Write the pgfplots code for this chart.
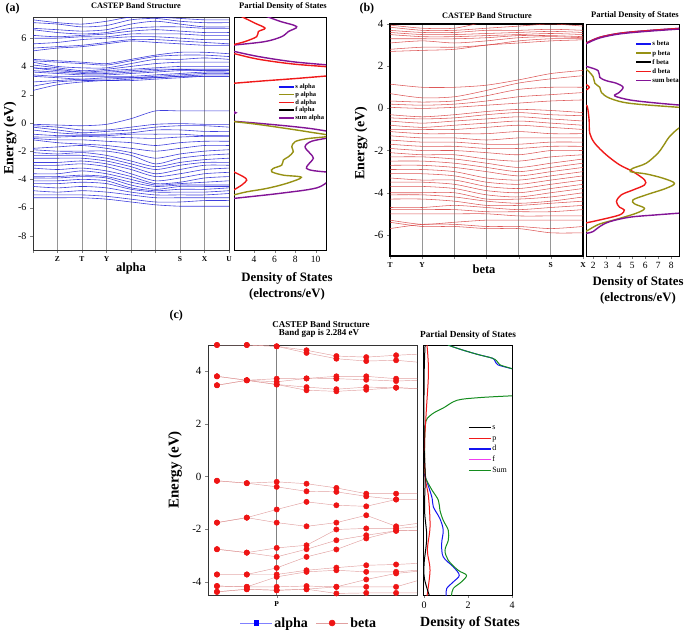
\documentclass[border=0pt]{standalone}
\usepackage{pgfplots}
\pgfplotsset{compat=1.18}
\usepackage{fontspec}
\setmainfont{Liberation Serif}
\definecolor{bandblue}{RGB}{30,30,215}
\definecolor{bandred}{RGB}{215,60,60}
\definecolor{dosolive}{RGB}{150,145,20}
\definecolor{dospurple}{RGB}{130,20,150}
\definecolor{dosred}{RGB}{240,25,25}
\definecolor{dosblue}{RGB}{20,20,240}
\definecolor{cgreen}{RGB}{20,140,30}
\definecolor{cmag}{RGB}{240,60,240}
\definecolor{cpink}{RGB}{225,160,160}
\definecolor{cdot}{RGB}{238,20,20}
\definecolor{gridgray}{RGB}{150,150,150}
\newcommand\fs[1]{\fontsize{#1}{#1}\selectfont}
\pgfplotsset{
  bA/.style={color=bandblue, line width=0.6pt, opacity=0.85, smooth, tension=0.45, mark=none},
  bB/.style={color=bandred, line width=0.55pt, opacity=0.85, smooth, tension=0.45, mark=none},
  cl/.style={color=cpink, line width=0.45pt, mark=none},
  cm/.style={only marks, mark=*, mark size=2.7pt, color=cdot},
  dl/.style={smooth, tension=0.55, line width=1.4pt, mark=none},
  every axis/.append style={scale only axis, anchor=north west, tick align=outside,
    /pgf/number format/assume math mode=true, major tick length=3pt,
    xtick pos=bottom, ytick pos=left},
}
\newcommand\bandA[9]{\addplot[bA] coordinates {(0,#1)(1,#2)(2,#3)(3,#4)(4,#5)(5,#6)(6,#7)(7,#8)(8,#9)};}
\newcommand\bandB[7]{\addplot[bB] coordinates {(0,#1)(1,#2)(2,#3)(3,#4)(4,#5)(5,#6)(6,#7)};}
\newcommand\bandCline[8]{\addplot[cl] coordinates {(0,#1)(1,#2)(2,#3)(3,#4)(4,#5)(5,#6)(6,#7)(6.7,#8)};}
\newcommand\bandCmark[8]{\addplot[cm] coordinates {(0,#1)(1,#2)(2,#3)(3,#4)(4,#5)(5,#6)(6,#7)};}
\newcommand\cbands{%
\bandC{5.0}{5.0}{4.95}{4.8}{4.58}{4.54}{4.61}{4.65}
\bandC{5.0}{5.0}{4.95}{4.7}{4.48}{4.39}{4.42}{4.35}
\bandC{3.81}{3.66}{3.72}{3.73}{3.81}{3.81}{3.72}{3.72}
\bandC{3.81}{3.66}{3.6}{3.73}{3.72}{3.68}{3.63}{3.66}
\bandC{3.47}{3.66}{3.5}{3.4}{3.32}{3.4}{3.38}{3.34}
\bandC{3.47}{3.66}{3.5}{3.28}{3.24}{3.3}{3.38}{3.34}
\bandC{-0.16}{-0.25}{-0.2}{-0.27}{-0.43}{-0.65}{-0.65}{-0.65}
\bandC{-0.16}{-0.25}{-0.39}{-0.56}{-0.58}{-0.75}{-0.87}{-0.87}
\bandC{-1.75}{-1.56}{-1.25}{-0.96}{-1.09}{-1.13}{-0.87}{-0.87}
\bandC{-1.75}{-1.56}{-1.75}{-1.89}{-1.75}{-1.47}{-1.89}{-1.78}
\bandC{-2.76}{-2.89}{-2.71}{-2.61}{-2.01}{-1.97}{-1.97}{-1.91}
\bandC{-2.76}{-2.89}{-3.05}{-2.76}{-2.42}{-2.23}{-2.06}{-2.04}
\bandC{-3.72}{-3.72}{-3.47}{-3.05}{-2.77}{-2.35}{-2.06}{-2.04}
\bandC{-3.72}{-3.72}{-3.72}{-3.56}{-3.46}{-3.37}{-3.34}{-3.3}
\bandC{-4.16}{-4.19}{-3.81}{-3.62}{-3.56}{-3.62}{-3.62}{-3.56}
\bandC{-4.16}{-4.19}{-4.19}{-4.16}{-4.19}{-3.91}{-3.68}{-3.6}
\bandC{-4.38}{-4.28}{-4.32}{-4.28}{-4.19}{-4.19}{-4.19}{-3.96}
\bandC{-4.38}{-4.28}{-4.32}{-4.28}{-4.44}{-4.42}{-4.42}{-4.42}
}
\begin{document}
\begin{tikzpicture}
\useasboundingbox (0,0) rectangle (685pt,-635pt);

% ================= (a) band structure
\begin{axis}[at={(33pt,-17pt)}, width=196pt, height=233pt,
  xmin=0, xmax=8, ymin=-9, ymax=7.5,
  xtick={0,...,8}, xticklabels={,Z,T,Y,,,S,X,U},
  ytick={-8,-6,...,6},
  xmajorgrids, grid style={gridgray, line width=0.7pt},
  axis line style={black!80, line width=0.7pt},
  xticklabel style={font=\bfseries\fs{7.5}},
  yticklabel style={font=\fs{10}}]
\bandA{7.3}{7.1}{7.0}{7.2}{7.5}{7.5}{7.4}{7.3}{7.3}
\bandA{7.1}{7.0}{6.8}{6.9}{7.3}{7.4}{7.2}{7.1}{7.1}
\bandA{6.7}{6.6}{6.5}{6.6}{7.0}{7.2}{7.0}{6.8}{6.8}
\bandA{6.6}{6.4}{6.3}{6.4}{6.7}{6.8}{6.8}{6.7}{6.7}
\bandA{6.2}{6.1}{6.2}{6.3}{6.5}{6.6}{6.5}{6.4}{6.4}
\bandA{6.0}{6.0}{6.1}{6.1}{6.3}{6.3}{6.3}{6.2}{6.2}
\bandA{5.6}{5.7}{5.9}{6.0}{6.1}{6.1}{6.0}{5.9}{5.9}
\bandA{5.3}{5.4}{5.5}{5.7}{5.9}{5.9}{5.8}{5.7}{5.6}
\bandA{5.1}{5.3}{5.4}{5.6}{5.8}{5.7}{5.6}{5.5}{5.5}
\bandA{4.5}{4.4}{4.3}{4.2}{4.5}{4.8}{5.0}{5.0}{4.9}
\bandA{4.4}{4.3}{4.2}{4.1}{4.4}{4.7}{4.8}{4.8}{4.7}
\bandA{4.3}{4.0}{3.9}{3.9}{4.2}{4.5}{4.5}{4.6}{4.5}
\bandA{4.1}{3.9}{3.7}{3.8}{4.0}{4.2}{4.3}{4.3}{4.3}
\bandA{3.9}{3.8}{3.6}{3.7}{3.8}{3.9}{4.0}{4.0}{4.0}
\bandA{3.9}{3.7}{3.6}{3.6}{3.7}{3.8}{3.8}{3.8}{3.8}
\bandA{3.7}{3.6}{3.5}{3.5}{3.6}{3.7}{3.8}{3.7}{3.7}
\bandA{3.6}{3.5}{3.4}{3.4}{3.5}{3.6}{3.7}{3.7}{3.7}
\bandA{3.4}{3.3}{3.3}{3.3}{3.3}{3.4}{3.5}{3.6}{3.6}
\bandA{3.3}{3.2}{3.1}{3.2}{3.2}{3.3}{3.4}{3.5}{3.5}
\bandA{2.9}{3.0}{3.1}{3.1}{3.2}{3.2}{3.3}{3.4}{3.4}
\bandA{2.6}{2.9}{3.0}{3.0}{3.1}{3.2}{3.3}{3.3}{3.3}
\bandA{2.3}{2.7}{2.9}{3.0}{3.0}{3.1}{3.2}{3.3}{3.3}
\bandA{-0.1}{-0.15}{-0.2}{-0.1}{0.3}{0.85}{0.85}{0.85}{0.85}
\bandA{-0.2}{-0.3}{-0.5}{-0.5}{-0.3}{-0.1}{-0.05}{-0.1}{-0.1}
\bandA{-0.3}{-0.5}{-0.7}{-0.6}{-0.5}{-0.3}{-0.2}{-0.2}{-0.3}
\bandA{-0.5}{-0.7}{-0.8}{-0.8}{-0.7}{-0.5}{-0.5}{-0.6}{-0.6}
\bandA{-0.8}{-0.9}{-0.9}{-0.9}{-0.8}{-0.8}{-0.8}{-0.9}{-0.9}
\bandA{-1.0}{-1.0}{-0.95}{-1.0}{-1.05}{-1.1}{-1.0}{-0.95}{-0.95}
\bandA{-1.1}{-1.2}{-1.2}{-1.3}{-1.4}{-1.6}{-1.4}{-1.3}{-1.3}
\bandA{-1.2}{-1.4}{-1.5}{-1.6}{-1.8}{-2.0}{-1.8}{-1.6}{-1.6}
\bandA{-1.8}{-1.7}{-1.6}{-1.8}{-2.1}{-2.5}{-2.2}{-2.0}{-1.9}
\bandA{-1.9}{-2.0}{-2.0}{-2.0}{-2.3}{-2.9}{-2.5}{-2.3}{-2.2}
\bandA{-2.1}{-2.2}{-2.1}{-2.3}{-2.7}{-3.1}{-2.8}{-2.6}{-2.5}
\bandA{-2.3}{-2.3}{-2.3}{-2.5}{-2.9}{-3.3}{-3.0}{-2.8}{-2.8}
\bandA{-2.5}{-2.5}{-2.5}{-2.7}{-3.1}{-3.6}{-3.3}{-3.0}{-3.0}
\bandA{-2.8}{-2.8}{-2.7}{-2.9}{-3.3}{-3.8}{-3.6}{-3.3}{-3.2}
\bandA{-3.0}{-3.0}{-2.9}{-3.1}{-3.6}{-4.1}{-3.9}{-3.6}{-3.5}
\bandA{-3.2}{-3.3}{-3.2}{-3.4}{-3.8}{-4.3}{-4.2}{-3.9}{-3.8}
\bandA{-3.6}{-3.6}{-3.4}{-3.6}{-4.0}{-4.4}{-4.3}{-4.2}{-4.1}
\bandA{-3.8}{-3.8}{-3.7}{-3.8}{-4.2}{-4.5}{-4.4}{-4.4}{-4.4}
\bandA{-3.9}{-3.9}{-3.8}{-3.9}{-4.4}{-4.7}{-4.5}{-4.5}{-4.5}
\bandA{-4.1}{-4.1}{-4.0}{-4.1}{-4.6}{-4.8}{-4.7}{-4.7}{-4.6}
\bandA{-4.3}{-4.3}{-4.2}{-4.3}{-4.7}{-4.9}{-4.9}{-4.9}{-4.8}
\bandA{-4.5}{-4.6}{-4.5}{-4.6}{-4.9}{-5.1}{-5.1}{-5.1}{-5.0}
\bandA{-4.8}{-4.9}{-4.8}{-4.9}{-5.1}{-5.3}{-5.3}{-5.3}{-5.3}
\bandA{-5.1}{-5.1}{-5.1}{-5.2}{-5.4}{-5.6}{-5.6}{-5.5}{-5.5}
\bandA{-5.3}{-5.3}{-5.3}{-5.4}{-5.6}{-5.8}{-5.9}{-5.9}{-5.9}
\end{axis}

% ================= (a) DOS
\begin{axis}[at={(234pt,-17pt)}, width=92pt, height=233pt,
  xmin=2.05, xmax=11, ymin=-9, ymax=7.5,
  xtick={4,6,8,10}, ytick=\empty,
  axis line style={line width=0.8pt},
  xticklabel style={font=\fs{9.5}},
  legend style={at={(0.478,0.717)}, anchor=north west, draw=none, fill=none,
    font=\bfseries\fs{6.5}, row sep=0pt, inner sep=0pt,
    nodes={inner sep=0.6pt, text height=5pt, text depth=1.5pt}},
  legend cell align=left,
  legend image code/.code={\draw[#1, line width=1.6pt] (0pt,0pt) -- (15pt,0pt);}]
\addlegendimage{dosblue}\addlegendentry{s alpha}
\addlegendimage{dosolive}\addlegendentry{p alpha}
\addlegendimage{dosred}\addlegendentry{d alpha}
\addlegendimage{black}\addlegendentry{f alpha}
\addlegendimage{dospurple}\addlegendentry{sum alpha}
\addplot[dl, dospurple] coordinates {(5.0,7.6)(6.5,7.2)(8.15,6.82)(7.34,6.47)(6.69,6.11)(5.07,5.76)(2.15,5.52)(1.9,5.5)};
\addplot[dl, dosred] coordinates {(2.6,7.6)(4.1,7.06)(5.07,6.71)(4.42,6.47)(4.26,6.11)(3.12,5.76)(2.15,5.57)(1.9,5.5)};
\addplot[dl, dospurple] coordinates {(1.9,5.08)(2.15,5.05)(4.42,4.7)(7.67,4.34)(10.9,4.12)(11.5,4.08)};
\addplot[dl, dosred] coordinates {(1.9,4.92)(2.15,4.89)(4.42,4.51)(7.67,4.18)(10.9,3.99)(11.5,3.96)};
\addplot[dl, dosred] coordinates {(1.9,2.8)(5,2.98)(8,3.14)(11.5,3.35)};
\addplot[dl, dospurple] coordinates {(2.0,0.8)(2.25,0.72)(2.0,0.64)};
\addplot[dl, dospurple] coordinates {(1.9,0.12)(4,0.0)(7,-0.2)(9.5,-0.4)(11.4,-0.62)};
\addplot[dl, dospurple] coordinates {(11.4,-1.05)(9.6,-1.3)(8.96,-1.69)(9.45,-2.16)(9.77,-2.5)(9.28,-2.95)(9.1,-3.22)(9.77,-3.38)(11.4,-3.5)};
\addplot[dl, dospurple] coordinates {(11.4,-4.0)(10.1,-4.6)(6.5,-4.99)(2.0,-5.35)(1.9,-5.37)};
\addplot[dl, dosolive] coordinates {(1.9,0.1)(4,-0.07)(7,-0.38)(9.5,-0.66)(11.4,-0.92)(9.13,-1.12)(7.99,-1.33)(7.67,-1.69)(7.82,-2.04)(7.34,-2.4)(6.85,-2.63)(6.69,-2.99)(5.88,-3.22)(5.72,-3.46)(6.85,-3.7)(8.6,-3.85)(7.18,-4.28)(5.24,-4.64)(3.29,-4.88)(2.0,-5.11)(1.9,-5.15)};
\addplot[dl, dosred] coordinates {(1.9,-3.42)(2.0,-3.46)(2.96,-3.81)(3.29,-4.05)(2.8,-4.4)(2.0,-4.76)(1.9,-4.8)};
\end{axis}

% ================= (b) band structure
\begin{axis}[at={(390pt,-24pt)}, width=193pt, height=232pt,
  xmin=0, xmax=6, ymin=-7, ymax=4,
  xtick={0,...,6}, xticklabels={T,Y,,,,S,X},
  ytick={-6,-4,...,4},
  xmajorgrids, grid style={gridgray, line width=0.7pt},
  axis line style={black, line width=1.6pt},
  xticklabel style={font=\bfseries\fs{7.5}},
  yticklabel style={font=\fs{11}}]
\bandB{3.95}{3.8}{3.8}{4.1}{4.2}{4.2}{4.2}
\bandB{3.85}{3.7}{3.7}{3.8}{3.9}{4.0}{3.9}
\bandB{3.7}{3.6}{3.6}{3.7}{3.7}{3.75}{3.7}
\bandB{3.6}{3.5}{3.5}{3.55}{3.6}{3.65}{3.6}
\bandB{3.5}{3.4}{3.4}{3.45}{3.5}{3.55}{3.5}
\bandB{3.3}{3.3}{3.3}{3.35}{3.45}{3.45}{3.4}
\bandB{3.1}{3.2}{3.1}{3.2}{3.35}{3.4}{3.35}
\bandB{2.8}{2.9}{2.9}{3.0}{3.2}{3.3}{3.3}
\bandB{2.7}{2.75}{2.8}{3.0}{3.1}{3.2}{3.25}
\bandB{1.15}{1.0}{1.0}{1.1}{1.35}{1.65}{1.8}
\bandB{0.7}{0.5}{0.55}{0.85}{1.2}{1.4}{1.55}
\bandB{0.35}{0.3}{0.35}{0.6}{0.9}{1.0}{1.0}
\bandB{0.2}{0.15}{0.2}{0.35}{0.55}{0.65}{0.75}
\bandB{0.05}{0.0}{0.05}{0.15}{0.25}{0.35}{0.4}
\bandB{-0.3}{-0.4}{-0.3}{-0.15}{-0.05}{-0.1}{-0.2}
\bandB{-0.45}{-0.5}{-0.45}{-0.3}{-0.2}{-0.3}{-0.35}
\bandB{-0.6}{-0.7}{-0.6}{-0.5}{-0.4}{-0.5}{-0.6}
\bandB{-0.8}{-0.9}{-0.8}{-0.7}{-0.6}{-0.7}{-0.8}
\bandB{-1.0}{-1.0}{-1.0}{-0.9}{-0.8}{-0.9}{-1.0}
\bandB{-1.1}{-1.2}{-1.2}{-1.2}{-1.1}{-1.2}{-1.2}
\bandB{-1.3}{-1.4}{-1.4}{-1.5}{-1.4}{-1.4}{-1.4}
\bandB{-1.5}{-1.6}{-1.6}{-1.7}{-1.7}{-1.6}{-1.6}
\bandB{-1.7}{-1.8}{-1.8}{-1.9}{-1.9}{-1.8}{-1.8}
\bandB{-1.9}{-2.0}{-2.0}{-2.1}{-2.2}{-2.0}{-2.0}
\bandB{-2.1}{-2.2}{-2.2}{-2.4}{-2.5}{-2.3}{-2.2}
\bandB{-2.3}{-2.3}{-2.4}{-2.6}{-2.8}{-2.6}{-2.4}
\bandB{-2.5}{-2.5}{-2.6}{-2.8}{-3.0}{-2.8}{-2.6}
\bandB{-2.7}{-2.7}{-2.8}{-3.0}{-3.2}{-3.0}{-2.8}
\bandB{-2.9}{-2.9}{-3.0}{-3.3}{-3.4}{-3.2}{-3.0}
\bandB{-3.1}{-3.1}{-3.2}{-3.5}{-3.6}{-3.4}{-3.2}
\bandB{-3.3}{-3.4}{-3.4}{-3.7}{-3.8}{-3.6}{-3.4}
\bandB{-3.5}{-3.5}{-3.6}{-3.9}{-4.0}{-3.8}{-3.6}
\bandB{-3.7}{-3.7}{-3.8}{-4.1}{-4.2}{-4.0}{-3.8}
\bandB{-4.0}{-4.0}{-4.0}{-4.3}{-4.3}{-4.2}{-4.0}
\bandB{-4.1}{-4.1}{-4.2}{-4.4}{-4.5}{-4.4}{-4.2}
\bandB{-4.3}{-4.3}{-4.4}{-4.6}{-4.6}{-4.5}{-4.4}
\bandB{-4.7}{-4.7}{-4.6}{-4.7}{-4.8}{-4.7}{-4.6}
\bandB{-4.8}{-4.8}{-4.8}{-4.9}{-4.9}{-4.9}{-4.8}
\bandB{-5.0}{-5.0}{-5.0}{-5.0}{-5.1}{-5.1}{-5.1}
\bandB{-5.3}{-5.5}{-5.4}{-5.3}{-5.3}{-5.3}{-5.3}
\bandB{-5.7}{-5.5}{-5.5}{-5.6}{-5.6}{-5.7}{-5.6}
\bandB{-5.4}{-5.6}{-5.6}{-5.7}{-5.7}{-5.9}{-5.9}
\end{axis}

% ================= (b) DOS
\begin{axis}[at={(586pt,-24pt)}, width=93pt, height=232pt,
  xmin=1.45, xmax=8.6, ymin=-7, ymax=4,
  xtick={2,...,8}, ytick=\empty,
  axis line style={line width=0.8pt},
  xticklabel style={font=\fs{9.5}},
  legend style={at={(0.527,0.935)}, anchor=north west, draw=none, fill=none,
    font=\bfseries\fs{6.8}, row sep=0pt, inner sep=0pt,
    nodes={inner sep=0.6pt, text height=6pt, text depth=2pt}},
  legend cell align=left,
  legend image code/.code={\draw[#1, line width=1.6pt] (0pt,0pt) -- (15pt,0pt);}]
\addlegendimage{dosblue}\addlegendentry{s beta}
\addlegendimage{dosolive}\addlegendentry{p beta}
\addlegendimage{black}\addlegendentry{f beta}
\addlegendimage{dosred}\addlegendentry{d beta}
\addlegendimage{dospurple}\addlegendentry{sum beta}
\addplot[dl, dosblue] coordinates {(1.3,3.05)(1.54,3.12)(2.51,3.37)(4.04,3.56)(6.08,3.68)(8.58,3.79)(9,3.81)};
\addplot[dl, dosred] coordinates {(1.3,3.05)(1.54,3.12)(2.51,3.37)(4.04,3.56)(6.08,3.68)(8.58,3.79)(9,3.81)};
\addplot[dl, dospurple] coordinates {(1.3,3.02)(1.54,3.09)(2.51,3.34)(4.04,3.53)(6.08,3.65)(8.58,3.76)(9,3.78)};
\addplot[dl, dosred] coordinates {(1.3,1.13)(1.54,1.1)(1.7,1.0)(1.54,0.9)(1.3,0.88)};
\addplot[dl, dospurple] coordinates {(1.3,2.02)(1.54,1.98)(2.38,1.79)(2.51,1.47)(3.02,1.31)(3.79,1.19)(4.3,1.0)(3.99,0.75)(3.66,0.59)(4.81,0.40)(6.59,0.27)(8.58,0.16)(9,0.15)};
\addplot[dl, dosolive] coordinates {(1.3,1.86)(1.54,1.82)(2.0,1.5)(2.13,1.19)(2.51,1.0)(2.64,0.75)(3.28,0.48)(4.81,0.24)(8.58,0.05)(9,0.04)};
\addplot[dl, dosred] coordinates {(1.3,0.13)(1.54,0.11)(1.69,-0.55)(1.74,-1.18)(2.13,-1.66)(3.02,-2.21)(4.04,-2.68)(5.06,-3.0)(5.95,-3.39)(5.95,-3.63)(5.06,-3.87)(4.17,-4.1)(3.79,-4.42)(4.04,-4.69)(4.4,-4.82)(4.04,-5.05)(2.51,-5.29)(1.54,-5.42)(1.3,-5.45)};
\addplot[dl, dosolive] coordinates {(9,-0.85)(8.58,-0.94)(7.87,-1.34)(7.36,-1.81)(6.97,-2.13)(6.08,-2.6)(5.06,-2.84)(4.86,-3.0)(6.08,-3.11)(7.36,-3.31)(8.25,-3.55)(7.61,-3.79)(6.08,-4.1)(5.06,-4.34)(5.19,-4.53)(5.95,-4.74)(5.32,-4.97)(3.79,-5.26)(2.51,-5.48)(1.87,-5.68)(1.54,-5.8)(1.3,-5.85)};
\addplot[dl, dospurple] coordinates {(9,-4.95)(8.58,-4.97)(6.85,-5.05)(4.81,-5.16)(3.28,-5.37)(2.51,-5.6)(2.0,-5.84)(1.54,-5.92)(1.3,-5.95)};
\end{axis}

% ================= (c) band structure
\begin{axis}[at={(208pt,-345pt)}, width=209pt, height=250pt,
  xmin=-0.3, xmax=6.7, ymin=-4.5, ymax=5,
  xtick={2}, xticklabels={P},
  ytick={-4,-2,...,4},
  xmajorgrids, grid style={gray, line width=0.6pt},
  axis line style={black!80, line width=0.8pt},
  xticklabel style={font=\bfseries\fs{7.5}},
  yticklabel style={font=\fs{11}},
  legend style={at={(0.483,-0.112)}, anchor=center, legend columns=2, draw=none, fill=none,
    font=\bfseries\fs{14}, /tikz/every even column/.append style={column sep=6pt}},
  legend image code/.code={\draw[#1, mark=none] (0pt,0pt) -- (32pt,0pt); \draw[#1] plot coordinates {(16pt,0pt)};}]
\addlegendimage{blue!50, line width=0.5pt, mark=square*, mark size=2.3pt, mark options={fill=blue, draw=blue}}
\addlegendentry{alpha}
\addlegendimage{cpink, line width=0.5pt, mark=*, mark size=3pt, mark options={fill=cdot, draw=cdot}}
\addlegendentry{beta}
\let\bandC\bandCline
\cbands
\let\bandC\bandCmark
\cbands
\end{axis}

% ================= (c) DOS
\begin{axis}[at={(423pt,-345pt)}, width=89pt, height=250pt,
  xmin=-0.05, xmax=4, ymin=-4.5, ymax=5,
  xtick={0,2,4}, ytick=\empty,
  axis line style={black, line width=0.9pt},
  xticklabel style={font=\fs{10}},
  legend style={at={(0.506,0.692)}, anchor=north west, draw=none, fill=none,
    font=\fs{8}, row sep=0pt, inner sep=0pt,
    nodes={inner sep=0.85pt, text height=6.5pt, text depth=2.5pt}},
  legend cell align=left,
  legend image code/.code={\draw[#1, line width=1.2pt] (0pt,0pt) -- (22pt,0pt);}]
\addlegendimage{black}\addlegendentry{s}
\addlegendimage{dosred}\addlegendentry{p}
\addlegendimage{dosblue}\addlegendentry{d}
\addlegendimage{cmag}\addlegendentry{f}
\addlegendimage{cgreen}\addlegendentry{Sum}
\addplot[dl, line width=1pt, dosblue] coordinates {(1.0,5.1)(1.1,5.0)(1.6,4.85)(2.4,4.65)(3.1,4.5)(3.22,4.4)(3.35,4.25)(3.8,4.14)(4,4.1)(4.2,4.07)};
\addplot[dl, line width=1pt, cgreen] coordinates {(1.0,5.1)(1.1,5.0)(1.6,4.85)(2.4,4.65)(3.1,4.5)(3.3,4.4)(3.45,4.25)(3.8,4.15)(4,4.1)(4.2,4.07)};
\addplot[dl, line width=1pt, dosblue] coordinates {(0.0,0.1)(0.05,0)(0.35,-0.77)(0.42,-1.15)(0.72,-1.6)(0.87,-2.04)(0.8,-2.54)(0.87,-3.05)(1.33,-3.43)(1.6,-3.75)(1.33,-4.0)(1.03,-4.25)(1.0,-4.5)(1.0,-4.6)};
\addplot[dl, line width=1pt, cgreen] coordinates {(4.2,3.08)(4,3.07)(2.5,3.0)(1.5,2.9)(0.9,2.62)(0.5,2.45)(0.25,2.3)(0.08,2.1)(0.03,1.5)(0.02,0.5)(0.05,0.1)(0.08,-0.08)(0.35,-0.5)(0.65,-0.9)(0.72,-1.28)(0.87,-1.66)(1.1,-2.04)(1.1,-2.42)(0.95,-2.8)(1.1,-3.18)(1.55,-3.56)(1.93,-3.75)(1.7,-4.0)(1.33,-4.25)(1.25,-4.5)(1.25,-4.6)};
\addplot[dl, line width=1pt, dosred] coordinates {(0.12,5.1)(0.2,4.0)(0.1,2.5)(0.02,1.25)(0.05,0)(0.2,-0.77)(0.27,-1.9)(0.15,-2.8)(0.27,-3.56)(0.12,-4.6)};
\addplot[dl, line width=1pt, black] coordinates {(0.05,5.1)(0.0,3.8)(0.0,1.25)(0.05,0)(0.02,-1.28)(0.12,-2.3)(0.0,-3.3)(0.02,-3.9)(0.27,-4.6)};
\end{axis}

% ================= texts
\node[font=\bfseries\fs{12}, anchor=west] at (2pt,-8.5pt) {(a)};
\node[font=\bfseries\fs{8.3}] at (136pt,-6pt) {CASTEP Band Structure};
\node[font=\bfseries\fs{8.5}] at (283pt,-6pt) {Partial Density of States};
\node[font=\bfseries\fs{14}, rotate=90] at (10pt,-138pt) {Energy (eV)};
\node[font=\bfseries\fs{12.5}] at (131pt,-268pt) {alpha};
\node[font=\bfseries\fs{12.8}] at (287pt,-278pt) {Density of States};
\node[font=\bfseries\fs{12.8}] at (287pt,-294pt) {(electrons/eV)};

\node[font=\bfseries\fs{12}, anchor=west] at (356pt,-8.5pt) {(b)};
\node[font=\bfseries\fs{8.3}] at (487pt,-15.7pt) {CASTEP Band Structure};
\node[font=\bfseries\fs{8.5}] at (635pt,-15.7pt) {Partial Density of States};
\node[font=\bfseries\fs{14}, rotate=90] at (361pt,-143pt) {Energy (eV)};
\node[font=\bfseries\fs{12.5}] at (484pt,-269pt) {beta};
\node[font=\bfseries\fs{12.8}] at (638pt,-282pt) {Density of States};
\node[font=\bfseries\fs{12.8}] at (638pt,-298pt) {(electrons/eV)};

\node[font=\bfseries\fs{12}, anchor=west] at (166pt,-316pt) {(c)};
\node[font=\bfseries\fs{9}] at (321pt,-324pt) {CASTEP Band Structure};
\node[font=\bfseries\fs{9}] at (319pt,-333.5pt) {Band gap is 2.284 eV};
\node[font=\bfseries\fs{9.3}] at (468pt,-335pt) {Partial Density of States};
\node[font=\bfseries\fs{15}, rotate=90] at (175pt,-470pt) {Energy (eV)};
\node[font=\bfseries\fs{14}] at (470pt,-623pt) {Density of States};
\end{tikzpicture}
\end{document}
